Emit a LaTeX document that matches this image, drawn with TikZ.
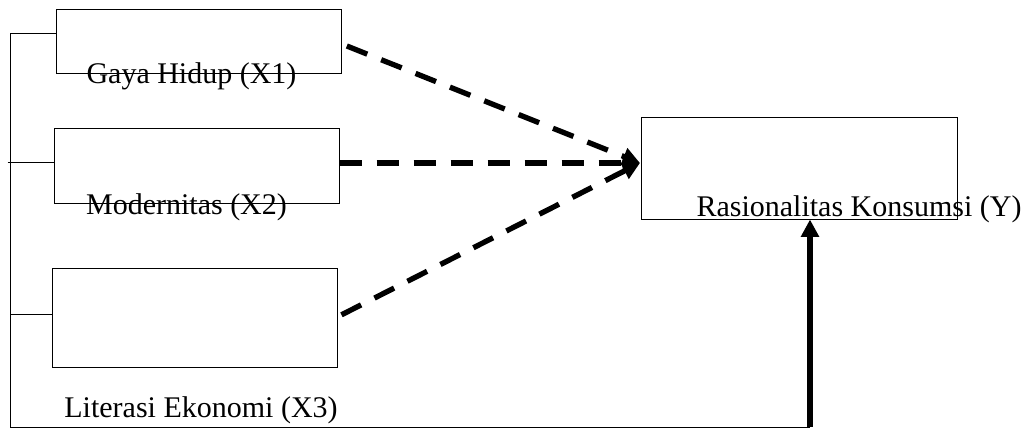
\documentclass[tikz,border=0pt]{standalone}
\usepackage{fontspec}
\setmainfont{Liberation Serif}
\usetikzlibrary{arrows.meta}

\tikzset{
  varbox/.style={draw, line width=0.75pt, inner sep=0pt, minimum width=213.75pt},
  varlabel/.style={inner sep=0pt, font=\fontsize{22.5}{27}\selectfont},
  thinline/.style={line width=0.75pt},
  dasharrow/.style={line width=4pt, dash pattern=on 16.5pt off 11.25pt, -{Triangle[length=13pt, width=13pt]}},
  solidarrow/.style={line width=4pt, -{Triangle[length=13pt, width=13pt]}}
}

\begin{document}
\begin{tikzpicture}[x=0.75pt,y=0.75pt,yscale=-1,xscale=1]
\useasboundingbox (0,0) rectangle (1033,428);

% boxes
\node [varbox, minimum height=48pt] (x1) at (198.5,42) {};
\node [varbox, minimum height=55.5pt] (x2) at (196.5,166) {};
\node [varbox, minimum height=74.25pt] (x3) at (194.5,317.5) {};
\node [varbox, minimum width=237pt, minimum height=75.75pt] (y) at (799,168.5) {};

% labels
\node [varlabel] (lx1) at (191.5,76) {Gaya Hidup (X1)};
\node [varlabel] (lx2) at (186.5,207) {Modernitas (X2)};
\node [varlabel] (lx3) at (201,410) {Literasi Ekonomi (X3)};
\node [varlabel] (ly) at (859,209) {Rasionalitas Konsumsi (Y)};

% helper points
\coordinate (yin) at (640,163);
\coordinate (corner) at (10,427);
\coordinate (base) at (810,427);

% left bracket
\draw [thinline] ([yshift=-6pt]x1.west) -| (corner) -- (base);
\draw [thinline] ([xshift=-34.5pt,yshift=-2.25pt]x2.west) -- ([yshift=-2.25pt]x2.west);
\draw [thinline] ([xshift=-30.75pt,yshift=-2.6pt]x3.west) -- ([yshift=-2.6pt]x3.west);

% paths into Y
\draw [dasharrow] ([xshift=4pt,yshift=3pt]x1.east) -- (yin);
\draw [dasharrow] ([yshift=-2.25pt]x2.east) -- (yin);
\draw [dasharrow] ([xshift=3pt,yshift=-2pt]x3.east) -- (yin);
\draw [solidarrow] (base) -- (base |- y.south);

\end{tikzpicture}
\end{document}
